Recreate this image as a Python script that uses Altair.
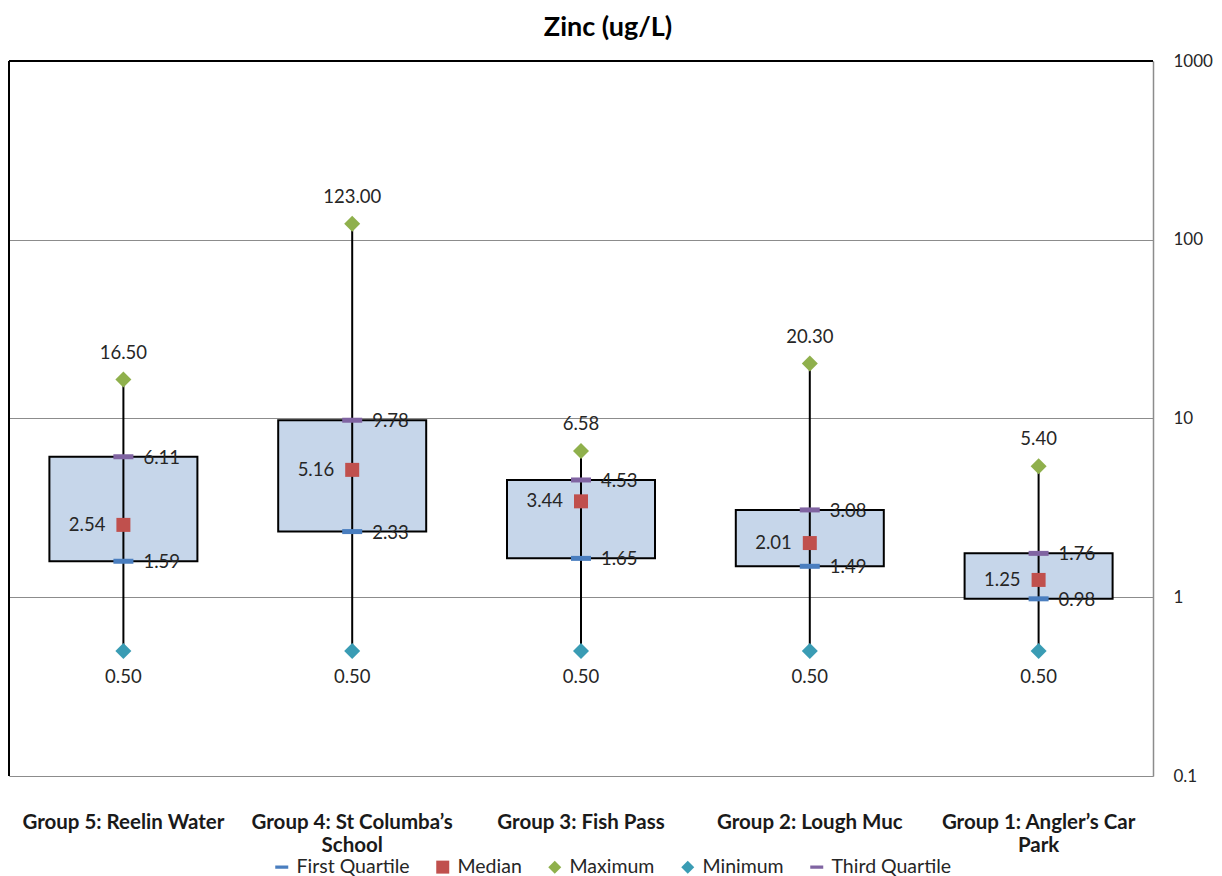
import altair as alt
import pandas as pd

groups = ["Group 5: Reelin Water", "Group 4: St Columba’s School", "Group 3: Fish Pass",
          "Group 2: Lough Muc", "Group 1: Angler’s Car Park"]
group_lines = ["Group 5: Reelin Water", "Group 4: St Columba’s\nSchool", "Group 3: Fish Pass",
               "Group 2: Lough Muc", "Group 1: Angler’s Car\nPark"]
minimum = [0.50, 0.50, 0.50, 0.50, 0.50]
first_quartile = [1.59, 2.33, 1.65, 1.49, 0.98]
median = [2.54, 5.16, 3.44, 2.01, 1.25]
third_quartile = [6.11, 9.78, 4.53, 3.08, 1.76]
maximum = [16.50, 123.00, 6.58, 20.30, 5.40]
series_order = ["First Quartile", "Median", "Maximum", "Minimum", "Third Quartile"]
y_ticks = [0.1, 1, 10, 100, 1000]

FONT = "Lato"
W, H = 1144, 715

wide = pd.DataFrame({
    "group": groups, "glabel": group_lines, "mn": minimum, "q1": first_quartile,
    "med": median, "q3": third_quartile, "mx": maximum,
})

series_vals = {"First Quartile": first_quartile, "Median": median, "Maximum": maximum,
               "Minimum": minimum, "Third Quartile": third_quartile}
marker_area = {"First Quartile": 400, "Median": 196, "Maximum": 256,
               "Minimum": 256, "Third Quartile": 400}
rows = []
for s in series_order:
    for g, v in zip(groups, series_vals[s]):
        rows.append({"group": g, "series": s, "value": v, "msize": marker_area[s]})
long = pd.DataFrame(rows)

xenc = alt.X("group:N", sort=groups, axis=None,
             scale=alt.Scale(paddingInner=0, paddingOuter=0))
yscale = alt.Scale(type="log", domain=[0.1, 1000], nice=False)

base = alt.Chart(wide)

box = base.mark_bar(size=148, fill="#c6d6ea", stroke="black", strokeWidth=2).encode(
    x=xenc,
    y=alt.Y("q1:Q", scale=yscale,
            axis=alt.Axis(orient="right", values=y_ticks, labelExpr="format(datum.value, '~g')",
                          grid=True, gridColor="#8c8c8c", gridWidth=1.2, ticks=False,
                          domainColor="#8c8c8c", domainWidth=1.5, labelFont=FONT,
                          labelFontSize=17, labelColor="#262626", labelPadding=20,
                          labelAlign="left", title=None)),
    y2="q3:Q",
)

whisker = base.mark_rule(color="black", strokeWidth=2).encode(
    x=xenc, y=alt.Y("mn:Q", scale=yscale), y2="mx:Q")

bar_path = "M-1,-0.25L1,-0.25L1,0.25L-1,0.25Z"
legend_cfg = dict(title=None, orient="none", direction="horizontal",
                  legendX=263, legendY=796, labelFont=FONT, labelFontSize=19.5,
                  labelColor="#262626", symbolSize=169, columnPadding=23,
                  labelOffset=5, symbolStrokeWidth=0)
markers = alt.Chart(long).mark_point(filled=True, opacity=1, strokeWidth=0).encode(
    x=xenc,
    y=alt.Y("value:Q", scale=yscale),
    color=alt.Color("series:N", scale=alt.Scale(
        domain=series_order,
        range=["#4a7ebf", "#c0504d", "#8fb04c", "#3a9cb4", "#8064a2"]),
        legend=alt.Legend(**legend_cfg)),
    shape=alt.Shape("series:N", scale=alt.Scale(
        domain=series_order,
        range=[bar_path, "square", "diamond", "diamond", bar_path]),
        legend=alt.Legend(**legend_cfg)),
    size=alt.Size("msize:Q", scale=None),
)

def lbl(field, **kw):
    return base.mark_text(font=FONT, fontSize=18.5, color="#262626", **kw).encode(
        x=xenc, y=alt.Y(f"{field}:Q", scale=yscale), text=alt.Text(f"{field}:Q", format=".2f"))

max_lbl = lbl("mx", dy=-27, align="center", baseline="middle")
min_lbl = lbl("mn", dy=26, align="center", baseline="middle")
q3_lbl = lbl("q3", dx=20, dy=1, align="left", baseline="middle")
q1_lbl = lbl("q1", dx=20, dy=1, align="left", baseline="middle")
med_lbl = lbl("med", dx=-18, align="right", baseline="middle")

cat_lbl = base.mark_text(font=FONT, fontSize=20.5, fontWeight="bold", color="#1a1a1a",
                         baseline="top", align="center", lineBreak="\n", lineHeight=23).encode(
    x=xenc, y=alt.value(H + 37), text="glabel:N")

frame = pd.DataFrame({"k": [0]})
top_line = alt.Chart(frame).mark_rule(color="black", strokeWidth=2).encode(
    x=alt.value(0), x2=alt.value(W), y=alt.value(0))
left_line = alt.Chart(frame).mark_rule(color="black", strokeWidth=2).encode(
    x=alt.value(0), y=alt.value(0), y2=alt.value(H))
title = alt.Chart(frame).mark_text(font=FONT, fontSize=27, fontWeight="bold", color="black",
                                   align="center", baseline="middle").encode(
    x=alt.value(599), y=alt.value(-33), text=alt.value("Zinc (ug/L)"))

chart = alt.layer(box, whisker, markers, max_lbl, min_lbl, q3_lbl, q1_lbl, med_lbl,
                  cat_lbl, top_line, left_line, title).properties(
    width=W, height=H,
    autosize=alt.AutoSizeParams(type="none"),
    padding={"left": 1, "top": 53, "right": 60, "bottom": 108},
).configure_view(stroke=None).configure(font=FONT)

chart.save("out.html", embed_options={"renderer": "svg", "actions": False})
